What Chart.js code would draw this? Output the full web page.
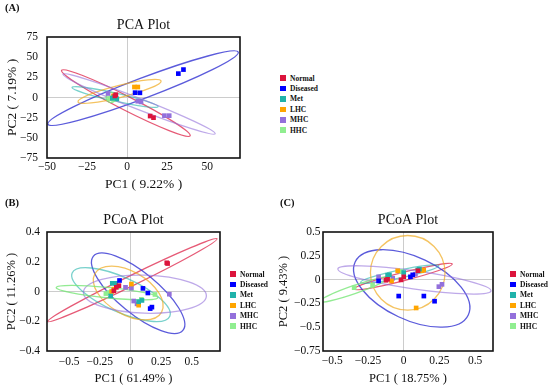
<!DOCTYPE html>
<html>
<head>
<meta charset="utf-8">
<script src="https://cdn.jsdelivr.net/npm/chart.js@4.4.1/dist/chart.umd.min.js"></script>
<style>
  body { margin: 0; background: #fff; }
  #page { position: relative; width: 550px; height: 389px; font-family: 'Liberation Serif', 'Times New Roman', serif; }
  .panel { position: absolute; }
  .tag { position: absolute; font-weight: bold; font-size: 10.5px; line-height: 1; color: #111; }
  .legend { position: absolute; margin: 0; padding: 0; list-style: none; font-weight: bold; font-size: 7.5px; color: #111; }
  .legend li { display: flex; align-items: center; height: 10.4px; white-space: nowrap; }
  .legend span { display: inline-block; width: 5.5px; height: 5.5px; margin-right: 4.5px; }
</style>
</head>
<body>
<div id="page">
  <canvas id="pca" class="panel" width="250" height="195" style="left:0;top:0"></canvas>
  <canvas id="pcoa1" class="panel" width="275" height="194" style="left:0;top:195px"></canvas>
  <canvas id="pcoa2" class="panel" width="275" height="194" style="left:275px;top:195px"></canvas>
  <ul id="pca-legend" class="legend" style="left:280px;top:73px"></ul>
  <ul id="pcoa1-legend" class="legend" style="left:230px;top:269px"></ul>
  <ul id="pcoa2-legend" class="legend" style="left:510px;top:269px"></ul>
  <div class="tag" style="left:5px;top:3px">(A)</div>
  <div class="tag" style="left:5px;top:198px">(B)</div>
  <div class="tag" style="left:280px;top:198px">(C)</div>
</div>
<script>
const serif = "'Liberation Serif', 'Times New Roman', serif";
const groups = ['Normal', 'Diseased', 'Met', 'LHC', 'MHC', 'HHC'];
const pointColors = ['#dc143c', '#0000ff', '#20b2aa', '#ffa500', '#9370db', '#90ee90'];
const ringColors = ['rgba(220,20,60,0.7)', 'rgba(50,50,210,0.8)', 'rgba(32,178,170,0.6)',
  'rgba(240,170,30,0.7)', 'rgba(147,112,219,0.6)', 'rgba(120,230,120,0.8)'];

// (A) PCA
const pcaNormal = [[-7, 3.5], [-7.6, 2], [14.4, -23], [16.5, -25]];
const pcaDiseased = [[5, 6], [8, 5.8], [32, 29.6], [35.2, 34.6]];
const pcaMet = [[-6.4, -1.6], [-8.2, 0.5], [-9.2, -1]];
const pcaLHC = [[4.6, 13], [6.7, 13], [-8.5, 2]];
const pcaMHC = [[6.7, -4.6], [8.7, -5.5], [23.3, -22.5], [26.3, -22.5], [-11.9, 5]];
const pcaHHC = [[-9.6, 0], [-11, -1.2], [-8.6, -2.2]];
// ellipse rows: centre x, y, end of first axis x, y, end of second axis x, y
const pcaEllipses = [
  [-0.75, -6.9, 39.4, -47.5, -2.75, -14.6],
  [10, 11.6, 69.4, 56.25, 12.2, -0.1],
  [-7.5, 0.6, 19.4, -11.25, -8.1, -4.25],
  [-4.7, 7.5, 21.25, 20.4, -3.8, 0.25],
  [7.5, -8.1, 55, -45, 6.25, -14.5],
  [-10, 0, -6.9, 0, -10, -6.25]
];

// (B) PCoA, PC1 61.49%
const pcoa1Normal = [[0.296, 0.193], [0.303, 0.188], [-0.094, 0.039], [-0.115, 0.028], [-0.135, 0.005]];
const pcoa1Diseased = [[-0.089, 0.074], [0.102, 0.021], [0.142, -0.01], [0.161, -0.115], [0.175, -0.105]];
const pcoa1Met = [[-0.148, 0.055], [-0.121, 0.055], [-0.161, -0.03], [0.094, -0.06], [0.067, -0.069]];
const pcoa1LHC = [[0.008, 0.05], [-0.135, 0.016], [-0.153, 0], [0.067, -0.092]];
const pcoa1MHC = [[-0.04, 0.028], [0.008, 0.023], [0.027, -0.064], [0.054, -0.083], [0.317, -0.018]];
const pcoa1HHC = [[-0.2, -0.014], [-0.175, -0.007], [0.089, -0.053], [0.2, -0.02]];
const pcoa1Ellipses = [
  [0.016, 0.076, 0.706, 0.354, 0.033, 0.045],
  [0.063, -0.012, 0.429, -0.26, 0.165, 0.096],
  [-0.077, -0.021, 0.321, -0.166, -0.023, 0.087],
  [-0.018, -0.01, 0.254, -0.139, 0.065, 0.117],
  [0.118, -0.018, 0.619, -0.03, 0.122, 0.11],
  [-0.191, -0.007, 0.223, -0.041, -0.187, 0.028]
];

// (C) PCoA, PC1 18.75%
const pcoa2Normal = [[-0.124, -0.007], [-0.113, 0.003], [-0.019, -0.003], [0, 0.029], [0.1, 0.093]];
const pcoa2Diseased = [[-0.176, -0.014], [-0.035, -0.173], [0.141, -0.173], [0.216, -0.227], [0.047, 0.029], [0.063, 0.05]];
const pcoa2Met = [[-0.113, 0.046], [-0.1, 0.05], [0, 0.074], [0.099, 0.103], [0.11, 0.11]];
const pcoa2LHC = [[-0.042, 0.093], [-0.085, -0.014], [0.127, 0.093], [0.087, -0.298], [0.14, 0.1]];
const pcoa2MHC = [[-0.176, 0.029], [-0.077, 0.014], [0.082, 0.056], [0.246, -0.074], [0.268, -0.05]];
const pcoa2HHC = [[-0.347, -0.085], [-0.218, -0.06], [-0.019, 0.085]];
const pcoa2Ellipses = [
  [-0.004, 0.032, 0.34, 0.164, 0.004, -0.01],
  [0.056, -0.093, 0.452, -0.371, 0.149, 0.204],
  [-0.028, 0.058, 0.246, 0.146, -0.023, 0.017],
  [0.028, 0.071, 0.289, 0.071, 0.028, 0.463],
  [0.075, -0.003, 0.611, -0.118, 0.085, 0.091],
  [-0.345, -0.104, -0.101, 0.023, -0.336, -0.144]
];

const ellipseSets = { pca: pcaEllipses, pcoa1: pcoa1Ellipses, pcoa2: pcoa2Ellipses };

// confidence ellipses, drawn under the points through the chart scales
const ellipsePlugin = {
  id: 'ellipses',
  beforeDatasetsDraw(chart) {
    const list = ellipseSets[chart.canvas.id];
    const { ctx, chartArea: a, scales: { x, y } } = chart;
    ctx.save();
    ctx.beginPath();
    ctx.rect(a.left, a.top, a.right - a.left, a.bottom - a.top);
    ctx.clip();
    list.forEach((e, i) => {
      const cx = x.getPixelForValue(e[0]), cy = y.getPixelForValue(e[1]);
      const ux = x.getPixelForValue(e[2]) - cx, uy = y.getPixelForValue(e[3]) - cy;
      const vx = x.getPixelForValue(e[4]) - cx, vy = y.getPixelForValue(e[5]) - cy;
      ctx.save();
      ctx.beginPath();
      ctx.transform(ux, uy, vx, vy, cx, cy);
      ctx.arc(0, 0, 1, 0, Math.PI * 2);
      ctx.restore();
      ctx.strokeStyle = ringColors[i];
      ctx.lineWidth = 1.3;
      ctx.stroke();
    });
    ctx.restore();
  }
};

const framePlugin = {
  id: 'frame',
  afterDatasetsDraw(chart) {
    const { ctx, chartArea: a } = chart;
    ctx.save();
    ctx.strokeStyle = '#111';
    ctx.lineWidth = 1.6;
    ctx.strokeRect(a.left, a.top, a.right - a.left, a.bottom - a.top);
    ctx.restore();
  }
};

const htmlLegend = {
  id: 'htmlLegend',
  afterUpdate(chart) {
    const ul = document.getElementById(chart.canvas.id + '-legend');
    if (!ul) return;
    ul.innerHTML = '';
    chart.options.plugins.legend.labels.generateLabels(chart).forEach(item => {
      const li = document.createElement('li');
      const box = document.createElement('span');
      box.style.background = item.fillStyle;
      li.appendChild(box);
      li.appendChild(document.createTextNode(item.text));
      ul.appendChild(li);
    });
  }
};

function axisOpts(min, max, step, label, labelSize, labelPad, tickPad, fit) {
  return {
    type: 'linear',
    min, max,
    afterFit: fit,
    border: { display: false },
    grid: {
      drawTicks: false,
      color: c => (c.tick && c.tick.value === 0 ? '#cccccc' : 'rgba(0,0,0,0)')
    },
    ticks: {
      stepSize: step,
      includeBounds: false,
      padding: tickPad,
      color: '#111',
      font: { family: serif, size: 11.5 },
      callback: v => String(v).replace('-', '\u2212')
    },
    title: {
      display: true, text: label, color: '#111',
      font: { family: serif, size: labelSize, lineHeight: 1 },
      padding: labelPad
    }
  };
}

function makePanel(id, title, series, padding, xAxis, yAxis) {
  return new Chart(document.getElementById(id), {
    type: 'scatter',
    data: {
      datasets: groups.map((g, i) => ({
        label: g,
        data: series[i],
        backgroundColor: pointColors[i],
        borderColor: pointColors[i],
        borderWidth: 0,
        pointStyle: 'rect',
        pointRadius: 3.3
      }))
    },
    options: {
      responsive: false,
      animation: false,
      devicePixelRatio: 1,
      layout: { padding },
      plugins: {
        legend: { display: false },
        tooltip: { enabled: false },
        title: {
          display: true, text: title, fullSize: false, color: '#111',
          font: { family: serif, size: 14, weight: 'normal', lineHeight: 1 },
          padding: { top: 0, bottom: 5 }
        }
      },
      scales: { x: xAxis, y: yAxis }
    },
    plugins: [ellipsePlugin, framePlugin, htmlLegend]
  });
}

makePanel('pca', 'PCA Plot',
  [pcaNormal, pcaDiseased, pcaMet, pcaLHC, pcaMHC, pcaHHC],
  { left: 0, top: 18, right: 10, bottom: 0 },
  axisOpts(-50, 70.5, 25, 'PC1 ( 9.22% )', 13.5, { top: 0, bottom: 3.5 }, 2.5, s => { s.height = 37; }),
  axisOpts(-75, 75, 25, 'PC2 ( 7.19% )', 13.5, { top: 5.5, bottom: 0 }, 9, s => { s.width = 47; }));

makePanel('pcoa1', 'PCoA Plot',
  [pcoa1Normal, pcoa1Diseased, pcoa1Met, pcoa1LHC, pcoa1MHC, pcoa1HHC],
  { left: 0, top: 18, right: 55, bottom: 0 },
  axisOpts(-0.68, 0.73, 0.25, 'PC1 ( 61.49% )', 12.5, { top: 0, bottom: 4.5 }, 4, s => { s.height = 38; }),
  axisOpts(-0.4, 0.4, 0.2, 'PC2 ( 11.26% )', 12.5, { top: 5.5, bottom: 0 }, 7, s => { s.width = 47; }));

makePanel('pcoa2', 'PCoA Plot',
  [pcoa2Normal, pcoa2Diseased, pcoa2Met, pcoa2LHC, pcoa2MHC, pcoa2HHC],
  { left: 0, top: 18, right: 57, bottom: 0 },
  axisOpts(-0.565, 0.625, 0.25, 'PC1 ( 18.75% )', 12.5, { top: 0, bottom: 3.8 }, 3.5, s => { s.height = 38; }),
  axisOpts(-0.75, 0.5, 0.25, 'PC2 ( 9.43% )', 12.5, { top: 2, bottom: 0 }, 2.5, s => { s.width = 48; }));
</script>
</body>
</html>
